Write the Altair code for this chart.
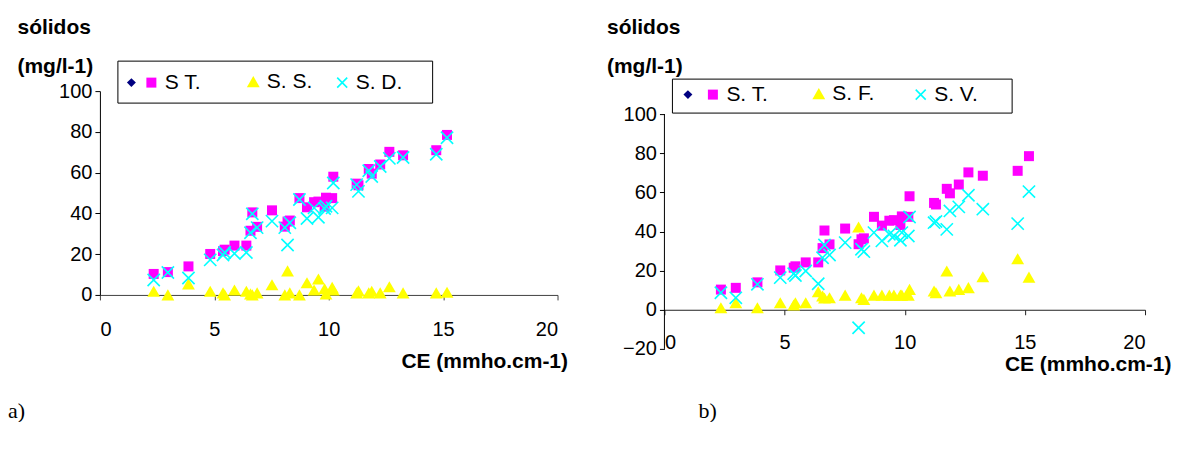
import altair as alt
import pandas as pd

# ---- data ----
CE = [2.35, 2.97, 3.87, 4.82, 5.38, 5.45, 5.88, 6.40, 6.58, 6.66, 6.87, 7.52, 8.08, 8.20, 8.30, 8.72,
      9.05, 9.36, 9.55, 9.82, 9.88, 10.15, 10.20, 11.22, 11.30, 11.75, 11.88, 12.25, 12.65, 13.25, 14.70, 15.17]
ST = [10.3, 11.2, 14.0, 20.1, 21.5, 22.2, 24.2, 24.2, 31.5, 40.5, 33.4, 41.5, 33.5, 36.0, 36.5, 47.5,
      43.0, 45.5, 45.8, 43.3, 47.7, 47.5, 58.0, 54.6, 53.8, 61.8, 59.5, 64.0, 70.2, 68.5, 71.0, 78.5]
SS = [1.8, 0.0, 5.4, 1.8, 1.0, 0.0, 2.4, 1.8, 0.5, 0.0, 1.0, 5.0, 0.0, 11.8, 1.0, 0.0,
      6.0, 2.4, 7.8, 3.0, 0.5, 3.7, 2.4, 1.0, 2.0, 1.0, 1.8, 1.0, 4.0, 1.0, 1.0, 1.3]
SD = [7.3, 11.0, 8.3, 17.2, 19.6, 20.8, 20.3, 20.8, 30.5, 39.8, 33.0, 36.2, 33.0, 24.5, 35.4, 46.8,
      37.5, 42.7, 38.1, 42.4, 43.5, 42.7, 54.9, 54.1, 50.8, 60.9, 58.1, 63.0, 67.0, 67.4, 69.0, 77.1]
SF = [1.0, 3.6, 1.0, 3.6, 2.4, 3.6, 3.6, 9.2, 7.0, 6.0, 6.1, 7.5, 42.3, 6.1, 5.3, 7.5,
      7.5, 7.5, 7.5, 7.5, 7.5, 7.5, 10.4, 9.6, 8.7, 19.8, 9.6, 10.4, 11.3, 16.9, 26.1, 16.7]
SV = [8.7, 6.1, 13.0, 16.4, 18.4, 17.5, 19.8, 13.3, 26.6, 33.1, 28.0, 34.3, -9.2, 30.9, 29.7, 39.4,
      35.2, 38.6, 37.7, 35.5, 39.4, 37.7, 47.4, 44.5, 45.1, 41.1, 50.5, 52.6, 58.5, 51.4, 44.0, 60.4]

X_TICKS = [0, 5, 10, 15, 20]
Y_TICKS_A = [0, 20, 40, 60, 80, 100]
Y_TICKS_B = [-20, 0, 20, 40, 60, 80, 100]
Y_RANGE_B = [-20, 100]
Y_TITLE = ["sólidos", "(mg/l-1)"]
X_TITLE = "CE (mmho.cm-1)"
NAMES_A = ["ST0", "S T.", "S. S.", "S. D."]
NAMES_B = ["ST0", "S. T.", "S. F.", "S. V."]

FONT = "Liberation Sans"
NAVY, MAGENTA, YELLOW, CYAN = "#000080", "#FF00FF", "#FFFF00", "#00FFFF"
XPATH = "M-1,-1L1,1M-1,1L1,-1"
SQ, TRI, XS, DI = 100, 165, 150, 80
TITLE_SIZE, LEGEND_SIZE = 21, 21


def frame(name, values):
    return pd.DataFrame({"CE": CE, "valor": values, "serie": name})


def y_axis(ticks, tx, ty, domain=True):
    return alt.Axis(values=ticks, tickSize=5, labelPadding=3, domain=domain, domainColor="black",
                    tickColor="black", title=Y_TITLE, titleAngle=0, titleAlign="left",
                    titleBaseline="alphabetic", titleX=tx, titleY=ty, titleLineHeight=39, titleFont=FONT,
                    titleFontSize=TITLE_SIZE, titleFontWeight="bold", titleColor="black", grid=False)


def legend(lx, ly, shape, size, hide=False, sw=1.0):
    kw = dict(orient="none", legendX=lx, legendY=ly, title=None, symbolType=shape, symbolSize=size,
              labelFont=FONT, labelFontSize=LEGEND_SIZE, labelColor="black", labelOffset=3, padding=0,
              symbolOpacity=1, symbolStrokeWidth=sw)
    if hide:
        kw["labelExpr"] = "''"
    return alt.Legend(**kw)


def points(df, name, color, shape, size, leg, x_enc, y_enc, filled=True, opacity=1.0):
    if filled:
        mk = alt.Chart(df).mark_point(shape=shape, filled=True, size=size, opacity=opacity)
    else:
        mk = alt.Chart(df).mark_point(shape=shape, filled=False, size=size, strokeWidth=1.6, opacity=opacity)
    return mk.encode(
        x=x_enc, y=y_enc,
        color=alt.Color("serie:N", scale=alt.Scale(domain=[name], range=[color]), legend=leg),
    )


def box(x1, x2, y1, y2):
    return alt.Chart(alt.Data(values=[{"k": 1}])).mark_rect(
        fill="white", stroke="black", strokeWidth=1
    ).encode(x=alt.value(x1), x2=alt.value(x2), y=alt.value(y1), y2=alt.value(y2))


# ---------------- panel a ----------------
WA, HA = 458, 204
xa = alt.X("CE:Q", scale=alt.Scale(domain=[0, 20], nice=False, zero=False),
           axis=alt.Axis(values=X_TICKS, tickSize=5, labelPadding=20, domainColor="#404040",
                         tickColor="#404040", grid=False, title=X_TITLE, titleFont=FONT,
                         titleFontSize=TITLE_SIZE, titleFontWeight="bold", titleColor="black",
                         titleAlign="right", titleBaseline="alphabetic", titleX=468, titleY=73,
                         titleAnchor="end"))
ya = alt.Y("valor:Q", scale=alt.Scale(domain=[0, 100], nice=False, zero=False),
           axis=y_axis(Y_TICKS_A, -83, -58))

panel_a = alt.layer(
    box(18, 333, -30, 12),
    points(frame(NAMES_A[0], ST), NAMES_A[0], NAVY, "diamond", DI, legend(21, -19, "diamond", DI, hide=True), xa, ya, opacity=0),
    points(frame(NAMES_A[1], ST), NAMES_A[1], MAGENTA, "square", SQ, legend(41, -19, "square", SQ), xa, ya),
    points(frame(NAMES_A[2], SS), NAMES_A[2], YELLOW, "triangle-up", TRI, legend(143, -20, "triangle-up", TRI), xa, ya),
    points(frame(NAMES_A[3], SD), NAMES_A[3], CYAN, XPATH, XS, legend(232, -19, XPATH, 100, sw=1.6), xa, ya, filled=False),
).resolve_scale(color="independent").properties(
    width=WA, height=HA,
    title=alt.TitleParams("a)", orient="bottom", anchor="start", frame="group", dx=-92, offset=29,
                          font="Liberation Serif", fontSize=22, fontWeight="normal", color="black"),
)

# ---------------- panel b ----------------
# the plot area is 23 px taller than the axis so that its axis top sits lower than panel a's
WB, HB_AXIS, EXTRA = 481, 235, 23
HB = HB_AXIS + EXTRA
PX_PER_UNIT = HB_AXIS / (Y_RANGE_B[1] - Y_RANGE_B[0])
YTOP_B = Y_RANGE_B[1] + EXTRA / PX_PER_UNIT
ZERO_OFF = -(0 - Y_RANGE_B[0]) * PX_PER_UNIT

xscale_b = alt.Scale(domain=[0, 20], nice=False, zero=False)
xb_line = alt.X("CE:Q", scale=xscale_b,
                axis=alt.Axis(values=X_TICKS, orient="bottom", offset=ZERO_OFF, labels=False, tickSize=5,
                              domainColor="#202020", tickColor="#202020", grid=False, title=None))
xb_lab = alt.X("CE:Q", scale=xscale_b,
               axis=alt.Axis(values=X_TICKS, orient="bottom", offset=-16, ticks=False, domain=False,
                             labelPadding=0, grid=False, title=X_TITLE, titleFont=FONT,
                             titleFontSize=TITLE_SIZE, titleFontWeight="bold", titleColor="black",
                             titleAlign="right", titleBaseline="alphabetic", titleX=507, titleY=38,
                             titleAnchor="end"))
xb_none = alt.X("CE:Q", scale=xscale_b, axis=None)
yscale_b = alt.Scale(domain=[Y_RANGE_B[0], YTOP_B], nice=False, zero=False)
yaxis_b = y_axis(Y_TICKS_B, -58, -58, domain=False)
yb = alt.Y("valor:Q", scale=yscale_b, axis=yaxis_b)

y_line_b = alt.Chart(alt.Data(values=[{"k": 1}])).mark_rule(color="black", strokeWidth=1).encode(
    x=alt.value(0),
    y=alt.Y(datum=Y_RANGE_B[0], type="quantitative", scale=yscale_b, axis=yaxis_b),
    y2=alt.Y2(datum=Y_RANGE_B[1]),
)

panel_b = alt.layer(
    box(8, 348, -12, 22),
    y_line_b,
    points(frame(NAMES_B[0], ST), NAMES_B[0], NAVY, "diamond", DI, legend(13, -7, "diamond", DI, hide=True), xb_none, yb, opacity=0),
    points(frame(NAMES_B[1], ST), NAMES_B[1], MAGENTA, "square", SQ, legend(38, -7, "square", SQ), xb_line, yb),
    points(frame(NAMES_B[2], SF), NAMES_B[2], YELLOW, "triangle-up", TRI, legend(144, -8, "triangle-up", TRI), xb_lab, yb),
    points(frame(NAMES_B[3], SV), NAMES_B[3], CYAN, XPATH, XS, legend(246, -7, XPATH, 100, sw=1.6), xb_none, yb, filled=False),
).resolve_scale(color="independent").resolve_axis(x="independent").properties(
    width=WB, height=HB,
    title=alt.TitleParams("b)", orient="bottom", anchor="start", frame="group", dx=34, offset=26,
                          font="Liberation Serif", fontSize=22, fontWeight="normal", color="black"),
)

chart = alt.hconcat(panel_a, panel_b, spacing=39).resolve_scale(
    x="independent", y="independent", color="independent"
).properties(
    padding={"left": 0, "top": 8, "right": 0, "bottom": 0}
).configure_view(strokeWidth=0).configure_axis(
    labelFont=FONT, labelFontSize=20, labelColor="black"
)

chart.save("out.html", embed_options={"renderer": "svg", "actions": False})
